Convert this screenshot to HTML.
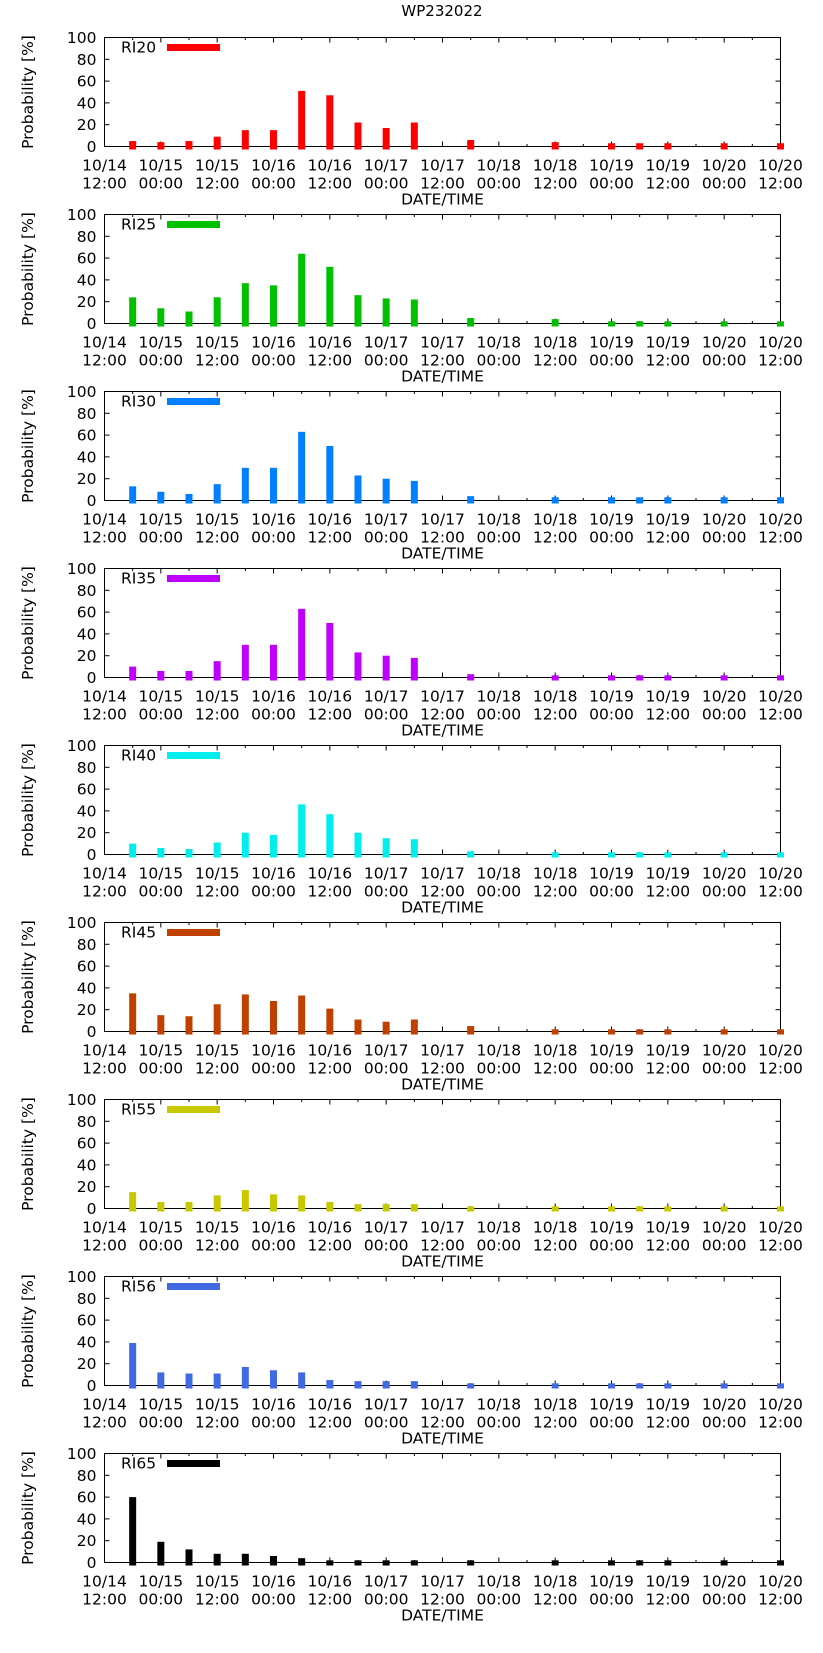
<!DOCTYPE html>
<html><head><meta charset="utf-8"><style>
html,body{margin:0;padding:0;background:#fff;}
svg{display:block;font-family:"DejaVu Sans","Liberation Sans",sans-serif;}
</style></head><body>
<svg id="chart" width="823" height="1653" viewBox="0 0 823 1653">
<text x="442" y="16" text-anchor="middle" font-size="15">WP232022</text>
</svg>
<script>
const hours = [6,12,18,24,30,36,42,48,54,60,66,78,96,108,114,120,132,144];
const xTickLabels1 = ["10/14","10/15","10/15","10/16","10/16","10/17","10/17","10/18","10/18","10/19","10/19","10/20","10/20"];
const xTickLabels2 = ["12:00","00:00","12:00","00:00","12:00","00:00","12:00","00:00","12:00","00:00","12:00","00:00","12:00"];
const yTicks = [0,20,40,60,80,100];
const seriesNames = ["RI20","RI25","RI30","RI35","RI40","RI45","RI55","RI56","RI65"];
const seriesColors = ["#ff0000","#00c000","#0080ff","#c000ff","#00eeee","#c04000","#c8c800","#4169e1","#000000"];
const ri20 = [5,4,5,9,15,15,51,47,22,17,22,6,4,3,3,3,3,3];
const ri25 = [24,14,11,24,37,35,64,52,26,23,22,5,4,2,2,2,2,2];
const ri30 = [13,8,6,15,30,30,63,50,23,20,18,4,3,3,3,3,3,3];
const ri35 = [10,6,6,15,30,30,63,50,23,20,18,3,2,2,2,2,2,2];
const ri40 = [10,6,5,11,20,18,46,37,20,15,14,3,2,2,2,2,2,2];
const ri45 = [35,15,14,25,34,28,33,21,11,9,11,5,2,2,2,2,2,2];
const ri55 = [15,6,6,12,17,13,12,6,4,4,4,2,2,2,2,2,2,2];
const ri56 = [39,12,11,11,17,14,12,5,4,4,4,2,2,2,2,2,2,2];
const ri65 = [60,19,12,8,8,6,4,2,2,2,2,2,2,2,2,2,2,2];
const allSeries = [ri20,ri25,ri30,ri35,ri40,ri45,ri55,ri56,ri65];

const NS = "http://www.w3.org/2000/svg";
const svg = document.getElementById("chart");
const L = 104.5, R = 780.5, PH = 109, TOP0 = 37.5, STEP = 177;
function mk(tag, attrs, parent){const e=document.createElementNS(NS,tag);for(const k in attrs)e.setAttribute(k,attrs[k]);(parent||svg).appendChild(e);return e;}
function xScale(h){return L + (h/144)*(R-L);}

allSeries.forEach((vals, p) => {
  const top = TOP0 + p*STEP, bot = top + PH;
  const yScale = v => bot - v/100*PH;
  const g = mk("g", {});
  
  
  // frame
  const f = mk("rect", {x: L, y: top, width: R-L, height: PH, fill: "none", stroke: "#000", "stroke-width": 1}, g);
  
  
  // y ticks
  yTicks.forEach(t => {
    const y = yScale(t);
    mk("line", {x1: L, x2: L+5, y1: y, y2: y, stroke: "#000"}, g);
    mk("line", {x1: R-5, x2: R, y1: y, y2: y, stroke: "#000"}, g);
    const tx = mk("text", {x: L-8, y: y+5.5, "text-anchor": "end", "font-size": 15.5}, g);
    tx.textContent = t;
    
    
  });
  // x ticks
  xTickLabels1.forEach((lab, i) => {
    const x = xScale(i*12);
    mk("line", {x1: x, x2: x, y1: bot, y2: bot-5, stroke: "#000"}, g);
    mk("line", {x1: x, x2: x, y1: top, y2: top+5, stroke: "#000"}, g);
    const t1 = mk("text", {x: x, y: bot+24, "text-anchor": "middle", "font-size": 15.5}, g);
    t1.textContent = lab;
    
    
    const t2 = mk("text", {x: x, y: bot+42, "text-anchor": "middle", "font-size": 15.5}, g);
    t2.textContent = xTickLabels2[i];
    
    
  });
  for (let h = 6; h < 144; h += 12) {
    const x = xScale(h);
    mk("line", {x1: x, x2: x, y1: bot, y2: bot-2.5, stroke: "#000"}, g);
    mk("line", {x1: x, x2: x, y1: top, y2: top+2.5, stroke: "#000"}, g);
  }
  // bars (drawn over ticks)
  vals.forEach((v, i) => {
    const cx = xScale(hours[i]);
    const y1 = yScale(v);
    const r = mk("rect", {x: cx-3.5, y: y1, width: 7, height: (bot+3) - y1, fill: seriesColors[p]}, g);
    
    
  });
  const xt = mk("text", {x: (L+R)/2, y: bot+58, "text-anchor": "middle", "font-size": 15.5}, g);
  xt.textContent = "DATE/TIME";
  
  
  const yt = mk("text", {x: 0, y: 0, "text-anchor": "middle", "font-size": 15.5, transform: `translate(33,${top+PH/2}) rotate(-90)`}, g);
  yt.textContent = "Probability [%]";
  
  
  // legend
  const lt = mk("text", {x: 121, y: top+15, "font-size": 15.5}, g);
  lt.textContent = seriesNames[p];
  
  
  const ls = mk("rect", {x: 167, y: top+6.5, width: 53, height: 7, fill: seriesColors[p]}, g);
  
  
});
</script>
</body></html>
